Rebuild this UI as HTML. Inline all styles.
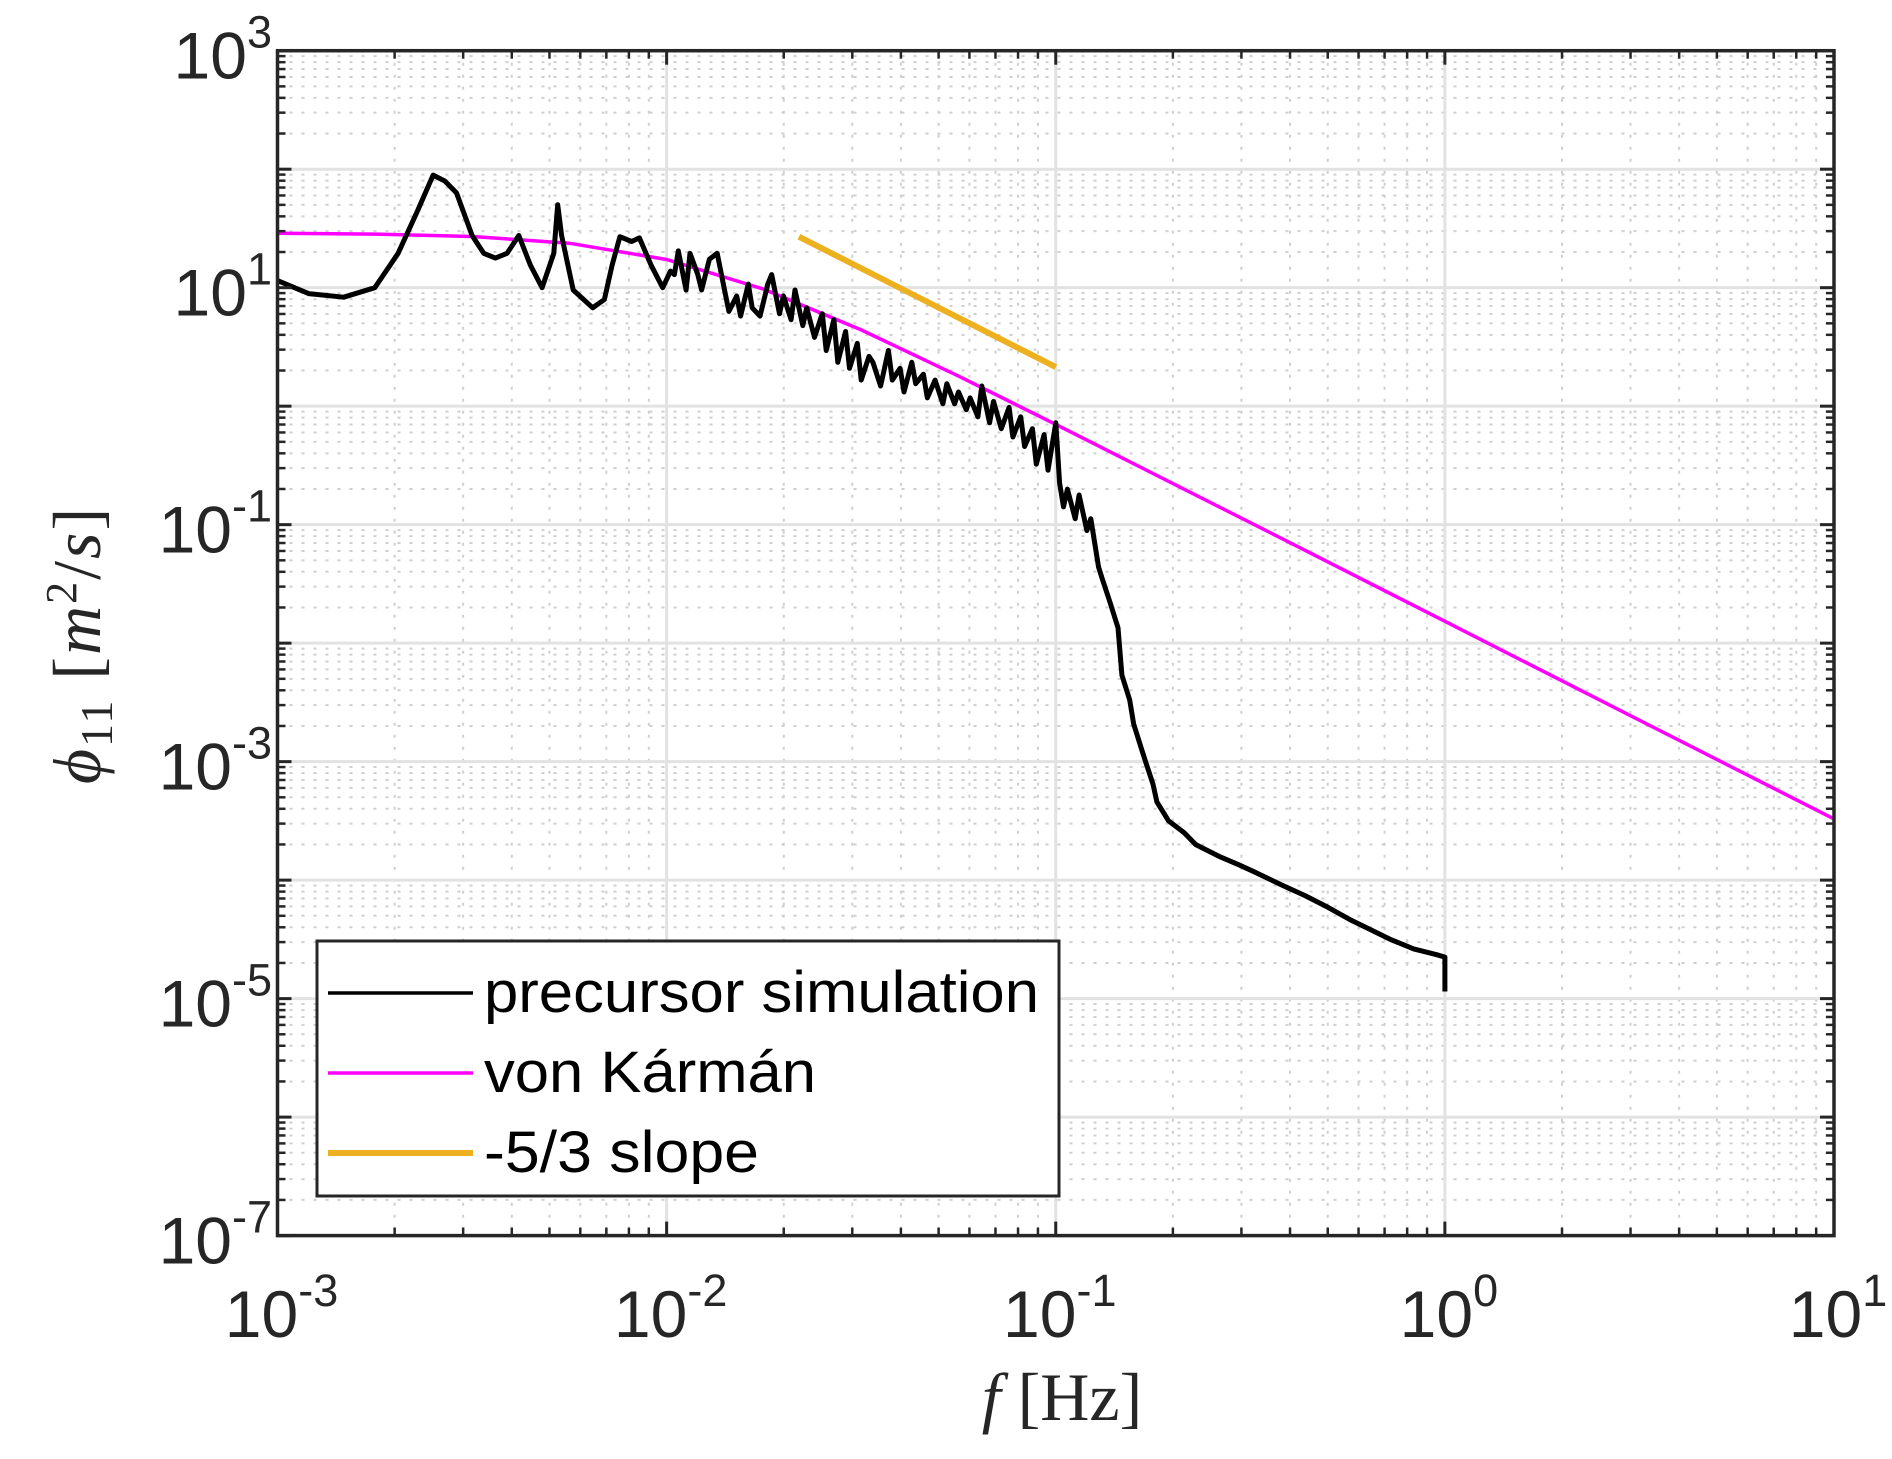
<!DOCTYPE html>
<html><head><meta charset="utf-8"><style>
html,body{margin:0;padding:0;background:#fff;}
svg{display:block;}
</style></head><body>
<svg id="chart" width="1892" height="1459" viewBox="0 0 1892 1459" xmlns="http://www.w3.org/2000/svg">
<rect width="1892" height="1459" fill="#fff"/>
<g id="grid"></g>
<g id="series"></g>
<g id="axes"></g>
<g id="legend"></g>
<text x="1062" y="1420" text-anchor="middle" font-family="'Liberation Serif',serif" font-size="68" fill="#262626"><tspan font-style="italic">f</tspan>  [Hz]</text>
<text transform="translate(100,645) rotate(-90)" text-anchor="middle" font-family="'Liberation Serif',serif" font-size="68" fill="#262626" letter-spacing="2"><tspan font-style="italic">ϕ</tspan><tspan font-size="46" dy="12">11</tspan><tspan dy="-12">  [</tspan><tspan font-style="italic">m</tspan><tspan font-size="44" dy="-24">2</tspan><tspan dy="24">/</tspan><tspan font-style="italic">s</tspan>]</text>
</svg>
<script>
// data (log10 values)
const simLogF = [-3.00,-2.92,-2.83,-2.75,-2.69,-2.64,-2.60,-2.57,-2.54,-2.50,-2.47,-2.44,-2.41,-2.38,-2.35,-2.32,-2.29,-2.28,-2.27,-2.24,-2.19,-2.16,-2.14,-2.12,-2.09,-2.07,-2.04,-2.01,
-1.99,-1.98,-1.97,-1.95,-1.94,-1.92,-1.91,-1.89,-1.87,-1.85,-1.84,-1.82,-1.81,-1.79,-1.78,-1.76,-1.74,-1.73,-1.71,-1.70,-1.68,-1.67,-1.65,-1.64,-1.62,-1.60,-1.59,-1.57,-1.56,-1.54,-1.53,-1.51,-1.50,-1.48,-1.47,-1.45,-1.43,-1.42,-1.40,-1.39,-1.37,-1.36,-1.34,-1.33,-1.31,-1.29,-1.28,-1.26,-1.25,-1.23,-1.22,-1.20,-1.19,-1.17,-1.16,-1.14,-1.12,-1.11,-1.09,-1.08,-1.06,-1.05,-1.03,-1.02,-1.00,-0.99,-0.98,-0.97,-0.95,-0.94,-0.92,-0.91,-0.89,-0.88,-0.86,-0.84,-0.83,-0.81,-0.80,-0.78,-0.77,-0.75,-0.74,-0.71,-0.67,-0.64,-0.61,-0.58,-0.53,-0.49,-0.42,-0.36,-0.30,-0.24,-0.14,-0.08,-0.02,0.00,0.00];
const simLogPsd = [1.06,0.95,0.92,1.00,1.29,1.65,1.95,1.90,1.80,1.44,1.29,1.25,1.29,1.44,1.19,1.00,1.29,1.70,1.44,0.98,0.83,0.90,1.19,1.43,1.39,1.42,1.19,1.00,
1.14,1.11,1.31,0.98,1.29,1.11,0.98,1.24,1.29,0.96,0.80,0.93,0.76,1.03,0.83,0.76,1.03,1.11,0.78,0.93,0.73,0.98,0.68,0.83,0.58,0.78,0.47,0.73,0.37,0.63,0.32,0.53,0.22,0.42,0.37,0.17,0.47,0.22,0.32,0.12,0.37,0.19,0.27,0.07,0.22,0.02,0.19,0.02,0.12,-0.03,0.07,-0.09,0.17,-0.14,0.04,-0.19,-0.01,-0.26,-0.09,-0.34,-0.19,-0.49,-0.24,-0.54,-0.14,-0.65,-0.85,-0.70,-0.95,-0.75,-1.05,-0.95,-1.36,-1.46,-1.66,-1.87,-2.27,-2.48,-2.68,-2.89,-2.99,-3.19,-3.34,-3.50,-3.60,-3.70,-3.75,-3.80,-3.87,-3.93,-4.04,-4.13,-4.23,-4.34,-4.50,-4.58,-4.63,-4.65,-4.94];
const vkLogF = [-3,-2.75,-2.5,-2.25,-2,-1.75,-1.5,-1.25,-1,-0.5,0,0.5,1];
const vkLogPsd = [1.459,1.452,1.432,1.375,1.238,0.987,0.644,0.254,-0.154,-0.983,-1.816,-2.650,-3.483];
const slopeLogF = [-1.66,-1.00];
const slopeLogPsd = [1.43,0.33];
const xTickExp = [-3,-2,-1,0,1];
const yTickExp = [-7,-5,-3,-1,1,3];

const L=277.5,R=1834,T=50.7,B=1235.6;
const X=v=>L+(v+3)*(R-L)/4;
const Y=v=>T+(3-v)*(B-T)/10;
const NS='http://www.w3.org/2000/svg';
function mk(tag,attrs,parent){const e=document.createElementNS(NS,tag);for(const k in attrs)e.setAttribute(k,attrs[k]);parent.appendChild(e);return e;}
const grid=document.getElementById('grid'),axes=document.getElementById('axes'),series=document.getElementById('series'),legend=document.getElementById('legend');

for(let d=-3;d<1;d++)for(let m=2;m<10;m++){const x=X(d+Math.log10(m));
 const g=mk('line',{x1:x,x2:x,y1:T,y2:B,stroke:'#cfcfcf','stroke-width':2,'stroke-dasharray':'3 9'},grid);
 
 
 mk('line',{x1:x,x2:x,y1:B,y2:B-8,stroke:'#262626','stroke-width':2.5},axes);
 mk('line',{x1:x,x2:x,y1:T,y2:T+8,stroke:'#262626','stroke-width':2.5},axes);}
for(let d=-7;d<3;d++)for(let m=2;m<10;m++){const y=Y(d+Math.log10(m));
 const g=mk('line',{x1:L,x2:R,y1:y,y2:y,stroke:'#cfcfcf','stroke-width':2,'stroke-dasharray':'3 9'},grid);
 
 
 mk('line',{x1:L,x2:L+8,y1:y,y2:y,stroke:'#262626','stroke-width':2.5},axes);
 mk('line',{x1:R,x2:R-8,y1:y,y2:y,stroke:'#262626','stroke-width':2.5},axes);}
for(let d=-3;d<=1;d++){const x=X(d);
 const g=mk('line',{x1:x,x2:x,y1:T,y2:B,stroke:'#e2e2e2','stroke-width':3},grid);
 
 
 mk('line',{x1:x,x2:x,y1:B,y2:B-14,stroke:'#262626','stroke-width':3},axes);
 mk('line',{x1:x,x2:x,y1:T,y2:T+14,stroke:'#262626','stroke-width':3},axes);}
for(let d=-7;d<=3;d++){const y=Y(d);
 const g=mk('line',{x1:L,x2:R,y1:y,y2:y,stroke:'#e2e2e2','stroke-width':3},grid);
 
 
 mk('line',{x1:L,x2:L+14,y1:y,y2:y,stroke:'#262626','stroke-width':3},axes);
 mk('line',{x1:R,x2:R-14,y1:y,y2:y,stroke:'#262626','stroke-width':3},axes);}
const frame=mk('rect',{x:L,y:T,width:R-L,height:B-T,fill:'none',stroke:'#262626','stroke-width':3.5},axes);



xTickExp.forEach(e=>{const t=mk('text',{x:X(e)+4,y:1337,'text-anchor':'middle','font-family':"'Liberation Sans',sans-serif",'font-size':66,fill:'#262626'},axes);
 
 
 t.innerHTML='10<tspan font-size="45" dy="-31">'+e+'</tspan>';});
yTickExp.forEach(e=>{const t=mk('text',{x:272,y:Y(e)+28,'text-anchor':'end','font-family':"'Liberation Sans',sans-serif",'font-size':66,fill:'#262626'},axes);
 
 
 t.innerHTML='10<tspan font-size="45" dy="-31">'+e+'</tspan>';});

function path(fx,fy){return fx.map((v,i)=>(i?'L':'M')+X(v).toFixed(1)+' '+Y(fy[i]).toFixed(1)).join(' ');}
const clip=mk('clipPath',{id:'pc'},series);mk('rect',{x:L,y:T,width:R-L,height:B-T},clip);
const vk=mk('path',{d:path(vkLogF,vkLogPsd),fill:'none',stroke:'#ff00ff','stroke-width':3.5,'clip-path':'url(#pc)'},series);


const sim=mk('path',{d:path(simLogF,simLogPsd),fill:'none',stroke:'#000','stroke-width':5,'stroke-linejoin':'round','clip-path':'url(#pc)'},series);


const sl=mk('path',{d:path(slopeLogF,slopeLogPsd),fill:'none',stroke:'#edb120','stroke-width':6},series);



const lb=mk('rect',{x:317,y:941,width:742,height:255,fill:'#fff',stroke:'#262626','stroke-width':3},legend);


const items=[['precursor simulation','#000',3.5,555],['von Kármán','#ff00ff',3.5,332],['-5/3 slope','#edb120',6,275]];
items.forEach((it,i)=>{const cy=993+i*80;
 const ln=mk('line',{x1:328,x2:473,y1:cy,y2:cy,stroke:it[1],'stroke-width':it[2]},legend);
 
 
 const t=mk('text',{x:484,y:cy+19,'font-family':"'Liberation Sans',sans-serif",'font-size':58,fill:'#000',textLength:it[3],lengthAdjust:'spacingAndGlyphs'},legend);
 
 
 t.textContent=it[0];});
</script>
</body></html>
